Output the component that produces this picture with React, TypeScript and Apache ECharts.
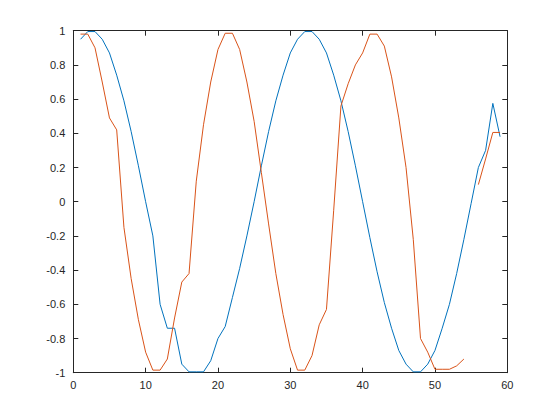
import React, { useEffect, useRef } from "react";
import * as echarts from "echarts";

const xValues = [
  1, 2, 3, 4, 5, 6, 7, 8, 9, 10, 11, 12, 13, 14, 15, 16, 17, 18, 19, 20,
  21, 22, 23, 24, 25, 26, 27, 28, 29, 30, 31, 32, 33, 34, 35, 36, 37, 38, 39, 40,
  41, 42, 43, 44, 45, 46, 47, 48, 49, 50, 51, 52, 53, 54, 55, 56, 57, 58, 59,
];

const blueValues = [
  0.95, 0.995, 0.995, 0.95, 0.87, 0.74, 0.59, 0.41, 0.21, 0.0,
  -0.2, -0.6, -0.74, -0.74, -0.95, -0.995, -0.995, -0.995, -0.93, -0.8,
  -0.73, -0.56, -0.39, -0.2, 0.0, 0.21, 0.41, 0.59, 0.74, 0.87,
  0.95, 0.995, 0.995, 0.95, 0.87, 0.74, 0.59, 0.41, 0.21, 0.0,
  -0.21, -0.41, -0.59, -0.74, -0.87, -0.95, -0.995, -0.995, -0.95, -0.87,
  -0.74, -0.6, -0.42, -0.22, -0.01, 0.2, 0.3, 0.575, 0.38,
];

const orangeValues: (number | null)[] = [
  0.98, 0.98, 0.9, 0.7, 0.49, 0.42, -0.15, -0.45, -0.69, -0.88,
  -0.985, -0.985, -0.92, -0.68, -0.47, -0.42, 0.12, 0.45, 0.7, 0.89,
  0.985, 0.985, 0.89, 0.7, 0.47, 0.17, -0.13, -0.42, -0.66, -0.86,
  -0.985, -0.985, -0.9, -0.72, -0.63, -0.05, 0.56, 0.69, 0.8, 0.87,
  0.98, 0.98, 0.91, 0.73, 0.49, 0.2, -0.22, -0.8, -0.88, -0.98,
  -0.98, -0.98, -0.96, -0.92, null, 0.1, 0.25, 0.405, 0.405,
];

const xTicks = { min: 0, max: 60, interval: 10 };
const yTicks = { min: -1, max: 1, interval: 0.2 };

const AXIS_COLOR = "#262626";
const FONT = "'Liberation Sans', Arial, Helvetica, sans-serif";

export default function App() {
  const ref = useRef<HTMLDivElement>(null);

  useEffect(() => {
    if (!ref.current) return;
    const chart = echarts.init(ref.current, undefined, { renderer: "svg" });

    const axisCommon = {
      axisLine: { show: true, onZero: false, lineStyle: { color: AXIS_COLOR, width: 1 } },
      axisTick: { show: true, inside: true, length: 5, lineStyle: { color: AXIS_COLOR, width: 1 } },
      splitLine: { show: false },
    };

    const fmt = (v: number) => String(Math.round(v * 10) / 10);

    chart.setOption({
      animation: false,
      backgroundColor: "#ffffff",
      grid: { left: 73.3, right: 52.7, top: 30.7, bottom: 47.3, containLabel: false },
      xAxis: [
        {
          type: "value",
          position: "bottom",
          ...xTicks,
          ...axisCommon,
          axisLabel: { color: AXIS_COLOR, fontSize: 11, fontFamily: FONT, margin: 7, formatter: fmt },
        },
        {
          type: "value",
          position: "top",
          ...xTicks,
          ...axisCommon,
          axisLabel: { show: false },
        },
      ],
      yAxis: [
        {
          type: "value",
          position: "left",
          ...yTicks,
          ...axisCommon,
          axisLabel: { color: AXIS_COLOR, fontSize: 11, fontFamily: FONT, margin: 8, formatter: fmt },
        },
        {
          type: "value",
          position: "right",
          ...yTicks,
          ...axisCommon,
          axisLabel: { show: false },
        },
      ],
      series: [
        {
          type: "line",
          name: "blue",
          xAxisIndex: 0,
          yAxisIndex: 0,
          data: xValues.map((x, i) => [x, blueValues[i]]),
          showSymbol: false,
          symbol: "none",
          lineStyle: { color: "#0072BD", width: 1 },
          itemStyle: { color: "#0072BD" },
          z: 3,
        },
        {
          type: "line",
          name: "orange",
          xAxisIndex: 0,
          yAxisIndex: 0,
          data: xValues.map((x, i) => [x, orangeValues[i]]),
          showSymbol: false,
          symbol: "none",
          connectNulls: false,
          lineStyle: { color: "#D95319", width: 1 },
          itemStyle: { color: "#D95319" },
          z: 4,
        },
      ],
    });

    return () => chart.dispose();
  }, []);

  return (
    <div
      ref={ref}
      style={{ position: "fixed", left: 0, top: 0, width: 560, height: 420, background: "#fff" }}
    />
  );
}
